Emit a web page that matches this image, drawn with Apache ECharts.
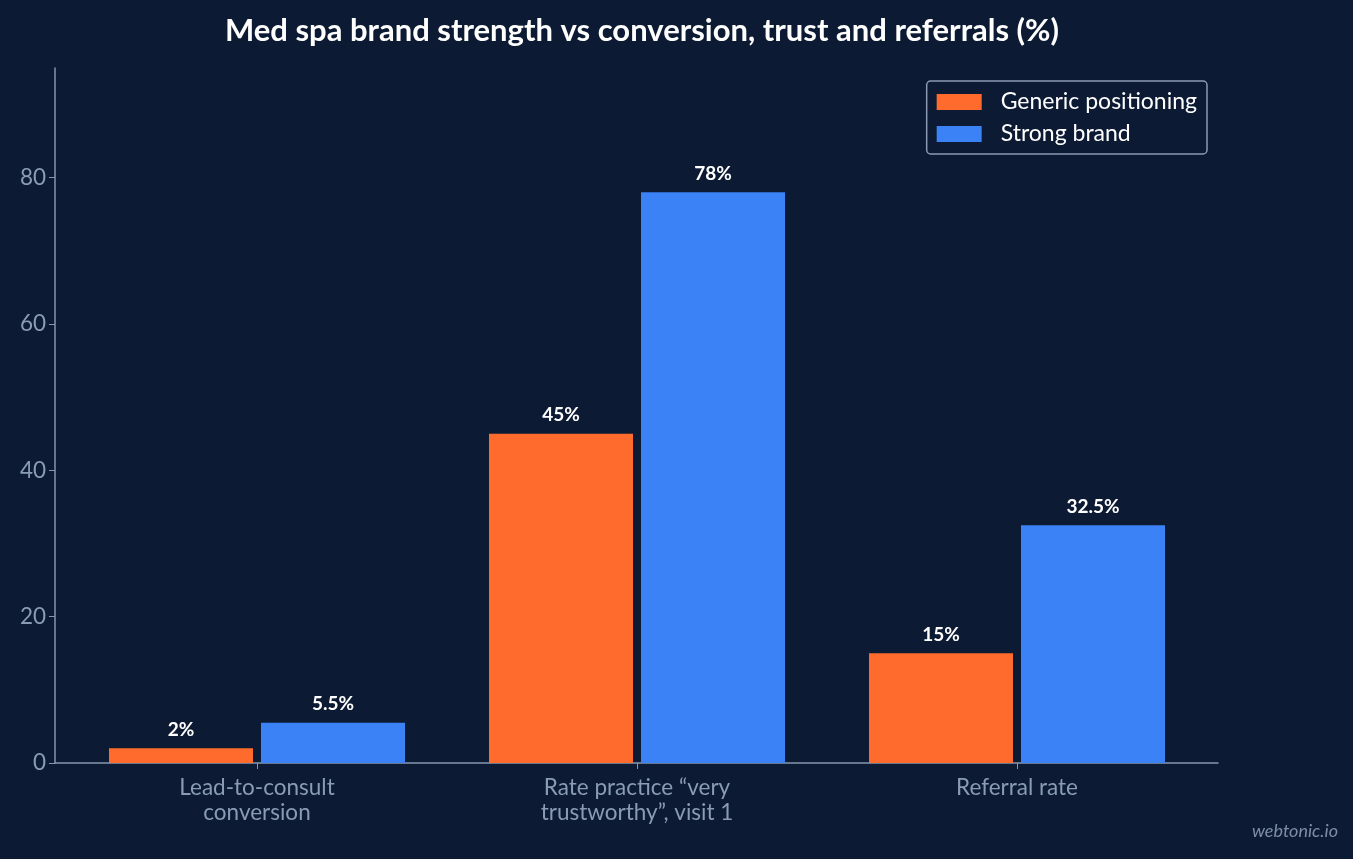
<!DOCTYPE html>
<html>
<head>
<meta charset="utf-8">
<script src="https://cdn.jsdelivr.net/npm/echarts@6/dist/echarts.min.js"></script>
<style>
  html, body { margin: 0; padding: 0; background: #0c1b33; }
  #chart { width: 1353px; height: 859px; }
</style>
</head>
<body>
<div id="chart"></div>
<script>
const categories = ["Lead-to-consult\nconversion", "Rate practice \u201cvery\ntrustworthy\u201d, visit 1", "Referral rate"];
const generic = [2, 45, 15];
const strong = [5.5, 78, 32.5];
const seriesNames = ["Generic positioning", "Strong brand"];

const axisColor = "#8696b0";
const labelColor = "#8a9bb5";
const font = "Lato";

const chart = echarts.init(document.getElementById("chart"));

const barLabel = {
  show: true,
  position: "top",
  distance: 9,
  color: "#ffffff",
  fontFamily: font,
  fontWeight: "bold",
  fontSize: 19,
  formatter: (p) => p.value + "%",
};

chart.setOption({
  backgroundColor: "#0c1b33",
  title: {
    text: "Med spa brand strength vs conversion, trust and referrals (%)",
    left: 637,
    textAlign: "center",
    top: 10,
    textStyle: { color: "#ffffff", fontFamily: font, fontWeight: "bold", fontSize: 31 },
  },
  legend: {
    data: seriesNames,
    orient: "vertical",
    right: 146,
    top: 81,
    padding: [9, 10, 8, 10],
    itemWidth: 45,
    itemHeight: 16,
    itemGap: 8,
    borderColor: "#8a9bb5",
    borderWidth: 1.5,
    borderRadius: 4,
    icon: "rect",
    textStyle: { color: "#ffffff", fontFamily: font, fontSize: 23, padding: [0, 0, 0, 14], lineHeight: 24 },
  },
  grid: [
    { left: 55, right: 135, top: 68, bottom: 96 },
    { left: 67, width: 1140, top: 68, bottom: 96 },
  ],
  xAxis: [
    {
      type: "value", gridIndex: 0, min: 0, max: 1,
      axisLine: { show: true, lineStyle: { color: axisColor, width: 1.5 } },
      axisTick: { show: false }, axisLabel: { show: false }, splitLine: { show: false },
    },
    {
      type: "category", gridIndex: 1, data: categories,
      axisLine: { show: false },
      axisTick: { show: true, alignWithLabel: true, length: 6, lineStyle: { color: axisColor } },
      axisLabel: { color: labelColor, fontFamily: font, fontSize: 22.5, lineHeight: 25, margin: 12 },
    },
  ],
  yAxis: [
    {
      type: "value", gridIndex: 0, min: 0, max: 95, interval: 20,
      axisLine: { show: true, lineStyle: { color: axisColor, width: 1.5 } },
      axisTick: { show: true, length: 6, lineStyle: { color: axisColor } },
      axisLabel: { color: labelColor, fontFamily: font, fontSize: 22.5, margin: 9, showMaxLabel: false },
      splitLine: { show: false },
    },
    { type: "value", gridIndex: 1, min: 0, max: 95, show: false },
  ],
  series: [
    {
      name: seriesNames[0], type: "bar", xAxisIndex: 1, yAxisIndex: 1,
      data: generic, barWidth: 144, barGap: "5.56%",
      itemStyle: { color: "#ff6b2c" }, label: barLabel,
    },
    {
      name: seriesNames[1], type: "bar", xAxisIndex: 1, yAxisIndex: 1,
      data: strong, barWidth: 144, barGap: "5.56%",
      itemStyle: { color: "#3b82f6" }, label: barLabel,
    },
  ],
  graphic: [
    {
      type: "text", right: 15, top: 822,
      style: { text: "webtonic.io", fill: "#7f8ea8", font: "italic 18px Lato" },
    },
  ],
});
</script>
</body>
</html>
